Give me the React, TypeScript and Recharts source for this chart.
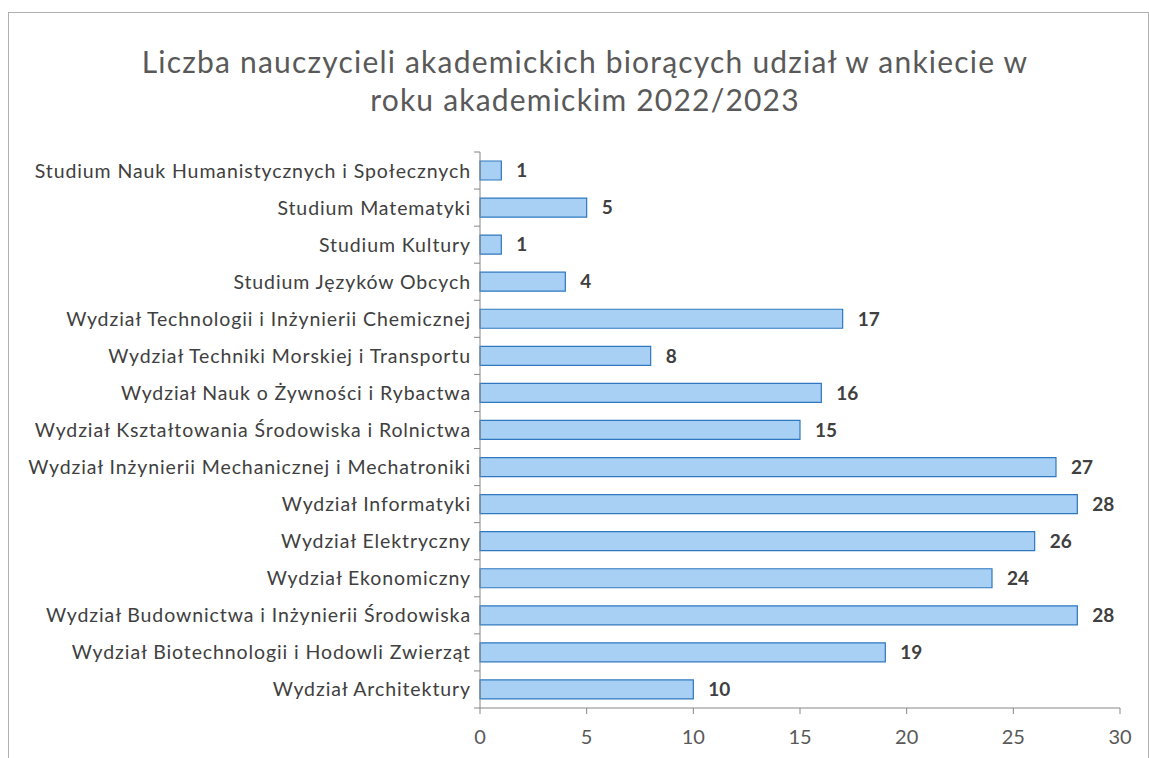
import { BarChart, Bar, XAxis, YAxis, LabelList } from "recharts";

const categories = [
  "Studium Nauk Humanistycznych i Społecznych",
  "Studium Matematyki",
  "Studium Kultury",
  "Studium Języków Obcych",
  "Wydział Technologii i Inżynierii Chemicznej",
  "Wydział Techniki Morskiej i Transportu",
  "Wydział Nauk o Żywności i Rybactwa",
  "Wydział Kształtowania Środowiska i Rolnictwa",
  "Wydział Inżynierii Mechanicznej i Mechatroniki",
  "Wydział Informatyki",
  "Wydział Elektryczny",
  "Wydział Ekonomiczny",
  "Wydział Budownictwa i Inżynierii Środowiska",
  "Wydział Biotechnologii i Hodowli Zwierząt",
  "Wydział Architektury",
];

const teachers = [1, 5, 1, 4, 17, 8, 16, 15, 27, 28, 26, 24, 28, 19, 10];

const xTicks = [0, 5, 10, 15, 20, 25, 30];

const title = ["Liczba nauczycieli akademickich biorących udział w ankiecie w", "roku akademickim 2022/2023"];

const data = categories.map((name, i) => ({ name, value: teachers[i] }));

const FONT = "Lato, 'Open Sans', sans-serif";
const AXIS = "#868686";
const TEXT = "#404040";
const BAND = 556 / categories.length;

function CatTick(props: any) {
  const { x, y, payload, index } = props;
  return (
    <g>
      <line x1={x + 3} x2={x + 9} y1={y - BAND / 2} y2={y - BAND / 2} stroke={AXIS} />
      {index === categories.length - 1 && (
        <line x1={x + 3} x2={x + 9} y1={y + BAND / 2} y2={y + BAND / 2} stroke={AXIS} />
      )}
      <text x={x} y={y} dy="0.36em" textAnchor="end" fill={TEXT} fontSize={19.5} letterSpacing={0.9} fontFamily={FONT}>
        {payload.value}
      </text>
    </g>
  );
}

export default function App() {
  return (
    <div style={{ position: "absolute", left: 0, top: 0, width: 1149, height: 758, background: "#fff", overflow: "hidden" }}>
      <div style={{ position: "absolute", left: 8, top: 12, width: 1139, height: 760, borderTop: "1px solid #b0b0b0", borderLeft: "1px solid #b0b0b0", borderRight: "1px solid #b0b0b0" }} />
      <div style={{ position: "absolute", left: 0, top: 42, width: 1170, textAlign: "center", fontFamily: FONT, fontSize: 30, letterSpacing: 1.2, color: "#595959", lineHeight: "38px" }}>
        {title.map((t) => <div key={t}>{t}</div>)}
      </div>
      <div style={{ position: "absolute", left: 0, top: 0 }}>
        <BarChart
          width={1149}
          height={758}
          data={data}
          layout="vertical"
          margin={{ top: 152, right: 29, bottom: 0, left: 0 }}
          barSize={19}
        >
          <XAxis
            type="number"
            domain={[0, 30]}
            ticks={xTicks}
            interval={0}
            height={50}
            axisLine={{ stroke: AXIS }}
            tickLine={{ stroke: AXIS }}
            tickSize={6}
            tickMargin={16}
            tick={{ fill: "#595959", fontSize: 20, fontFamily: FONT }}
          />
          <YAxis
            type="category"
            dataKey="name"
            width={480}
            axisLine={{ stroke: AXIS }}
            tickLine={false}
            tickSize={0}
            tickMargin={9}
            interval={0}
            tick={<CatTick />}
          />
          <Bar dataKey="value" fill="#a8d0f5" stroke="#2f78bf" strokeWidth={1.2} isAnimationActive={false}>
            <LabelList dataKey="value" position="right" offset={15} fill={TEXT} fontSize={19} fontWeight="bold" fontFamily={FONT} />
          </Bar>
        </BarChart>
      </div>
    </div>
  );
}
